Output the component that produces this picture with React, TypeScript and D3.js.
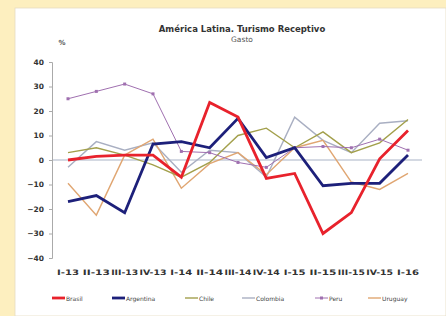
import React, { useEffect, useRef } from 'react';
import * as d3 from 'd3';

const categories = ['I-13', 'II-13', 'III-13', 'IV-13', 'I-14', 'II-14', 'III-14', 'IV-14', 'I-15', 'II-15', 'III-15', 'IV-15', 'I-16'];

const brasil = [0, 1.5, 2, 2, -7, 23.5, 17.5, -7.5, -5.5, -30, -21.5, 0.5, 12];
const argentina = [-17, -14.5, -21.5, 6.5, 7.5, 5, 17, 1, 5, -10.5, -9.5, -9.5, 2];
const chile = [3, 5, 2, -2, -7, -1, 10, 13, 5, 11.5, 3, 7, 16.5];
const colombia = [-3, 7.5, 4, 7, -5, 4, 3, -7, 17.5, 8, 3, 15, 16];
const peru = [25, 28, 31, 27, 3.5, 3, -1, -3, 5, 5.5, 5, 8.5, 4];
const uruguay = [-9.5, -22.5, 2, 8.5, -11.5, -1.5, 3, -6, 5, 8, -9, -12, -5.5];

const yTicks = [40, 30, 20, 10, 0, -10, -20, -30, -40];

const series = [
  { name: 'Brasil', label: 'Brasil', values: brasil, color: '#e8222c', width: 2.8, marker: false },
  { name: 'Argentina', label: 'Argentina', values: argentina, color: '#1d207a', width: 2.8, marker: false },
  { name: 'Chile', label: 'Chile', values: chile, color: '#a3a04c', width: 1.4, marker: false },
  { name: 'Colombia', label: 'Colombia', values: colombia, color: '#a9afc2', width: 1.4, marker: false },
  { name: 'Peru', label: 'Peru', values: peru, color: '#a070b0', width: 1, marker: true },
  { name: 'Uruguay', label: 'Uruguay', values: uruguay, color: '#e0a672', width: 1.4, marker: false },
];

const Chart: React.FC = () => {
  const svgRef = useRef<SVGSVGElement>(null);

  useEffect(() => {
    if (!svgRef.current) return;
    const svg = d3.select(svgRef.current);
    svg.selectAll('*').remove();

    const W = 446, H = 316;
    const font = 'DejaVu Sans, Verdana, sans-serif';

    // backgrounds
    svg.append('rect').attr('width', W).attr('height', H).attr('fill', '#fdefbf');
    svg.append('rect').attr('x', 15).attr('y', 8).attr('width', W - 15).attr('height', H - 8)
      .attr('fill', '#ffffff').attr('stroke', '#e6dcc0').attr('stroke-width', 0.8);

    const x = d3.scalePoint().domain(categories).range([68, 408]);
    const y = d3.scaleLinear().domain([-40, 40]).range([258, 62]);

    // titles
    svg.append('text').attr('x', 242).attr('y', 32).attr('text-anchor', 'middle')
      .attr('font-family', font).attr('font-size', 8.5).attr('font-weight', 'bold').attr('fill', '#333')
      .text('América Latina. Turismo Receptivo');
    svg.append('text').attr('x', 242).attr('y', 42).attr('text-anchor', 'middle')
      .attr('font-family', font).attr('font-size', 7.5).attr('fill', '#555')
      .text('Gasto');
    svg.append('text').attr('x', 62).attr('y', 45).attr('text-anchor', 'middle')
      .attr('font-family', font).attr('font-size', 7).attr('font-weight', 'bold').attr('fill', '#555')
      .text('%');

    // zero line
    svg.append('line').attr('x1', 52).attr('x2', 422).attr('y1', y(0)).attr('y2', y(0))
      .attr('stroke', '#a9b3c6').attr('stroke-width', 1);

    // y axis
    const yAxis = svg.append('g').attr('transform', 'translate(52,0)')
      .call(d3.axisLeft(y).tickValues(yTicks).tickSize(3).tickFormat(d3.format('d')));
    yAxis.select('.domain').attr('stroke', '#aaa');
    yAxis.selectAll('.tick line').attr('stroke', '#aaa');
    yAxis.selectAll('.tick text').attr('x', -8).attr('font-family', font).attr('font-size', 7.5)
      .attr('font-weight', 'bold').attr('fill', '#333');

    // x labels
    svg.append('g').selectAll('text').data(categories).join('text')
      .attr('x', d => x(d)!).attr('y', 275).attr('text-anchor', 'middle')
      .attr('font-family', font).attr('font-size', 7.5).attr('font-weight', 'bold').attr('fill', '#333')
      .attr('textLength', d => (d.length > 4 ? 27 : 22)).attr('lengthAdjust', 'spacingAndGlyphs')
      .text(d => d);

    const line = d3.line<number>().x((_, i) => x(categories[i])!).y(d => y(d));

    // draw thin series first, thick later
    const order = ['Colombia', 'Uruguay', 'Chile', 'Peru', 'Argentina', 'Brasil'];
    order.forEach(n => {
      const s = series.find(v => v.name === n)!;
      svg.append('path').datum(s.values).attr('d', line).attr('fill', 'none')
        .attr('stroke', s.color).attr('stroke-width', s.width).attr('stroke-linejoin', 'miter');
      if (s.marker) {
        svg.append('g').selectAll('rect').data(s.values).join('rect')
          .attr('x', (_, i) => x(categories[i])! - 1.5).attr('y', d => y(d) - 1.5)
          .attr('width', 3).attr('height', 3).attr('fill', s.color);
      }
    });

    // legend
    const legendX = [52, 112, 185, 242, 315, 368];
    const ly = 298;
    series.forEach((s, i) => {
      const g = svg.append('g').attr('transform', `translate(${legendX[i]},${ly})`);
      g.append('line').attr('x1', 0).attr('x2', 13).attr('y1', 0).attr('y2', 0)
        .attr('stroke', s.color).attr('stroke-width', s.width);
      if (s.marker) {
        g.append('rect').attr('x', 5).attr('y', -1.5).attr('width', 3).attr('height', 3).attr('fill', s.color);
      }
      g.append('text').attr('x', 14).attr('y', 2.5).attr('font-family', font).attr('font-size', 6)
        .attr('fill', '#444').text(s.label);
    });
  }, []);

  return <svg ref={svgRef} width={446} height={316} style={{ position: 'absolute', left: 0, top: 0 }} />;
};

export default function App() {
  return <Chart />;
}
